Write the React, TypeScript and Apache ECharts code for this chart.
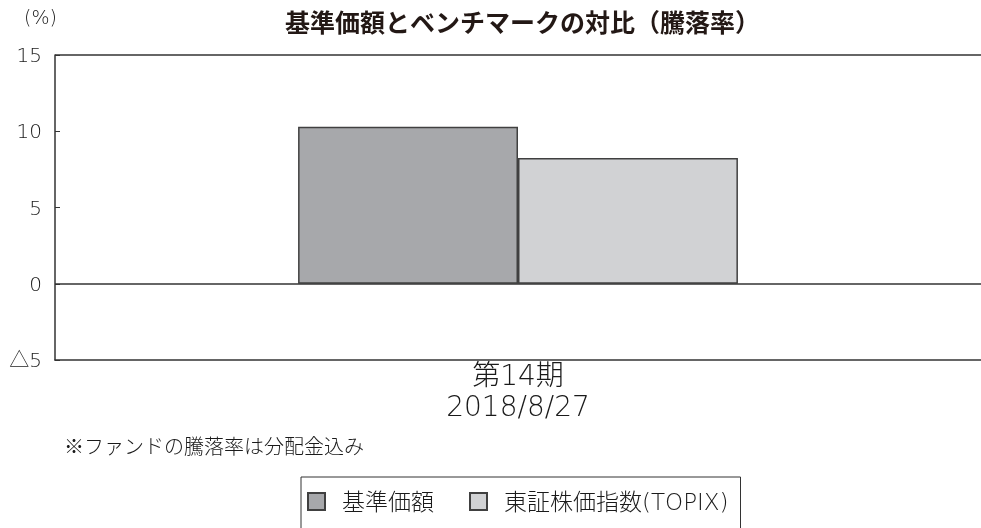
import React, { useEffect, useRef } from "react";
import * as echarts from "echarts";

const categories = ["第14期\n2018/8/27"];
const fundValues = [10.3];
const benchValues = [8.25];
const seriesNames = ["基準価額", "東証株価指数(TOPIX)"];
const refLines = [15, 0];
const yTicks = { min: -5, max: 15, interval: 5 };

const CJK = "'Noto Sans CJK JP', 'Noto Sans', sans-serif";
const NUM = "'DejaVu Sans', 'Noto Sans CJK JP', sans-serif";
const TXT = "#1a1a1a";

export default function App() {
  const ref = useRef<HTMLDivElement>(null);
  useEffect(() => {
    const chart = echarts.init(ref.current!, null, { renderer: "svg" });
    chart.setOption({
      animation: false,
      textStyle: { fontFamily: CJK },
      title: {
        text: "基準価額とベンチマークの対比（騰落率）",
        left: 280,
        top: 3,
        textStyle: { fontFamily: CJK, fontSize: 25, fontWeight: "bold", color: "#231815" },
      },
      graphic: [
        {
          type: "text",
          left: 24,
          top: 7,
          style: { text: "(%)", font: `200 19px ${NUM}`, fill: TXT },
        },
        {
          type: "text",
          left: 64,
          top: 435,
          style: { text: "※ファンドの騰落率は分配金込み", font: `300 20px ${CJK}`, fill: TXT },
        },
      ],
      legend: {
        top: 477,
        left: 301,
        icon: "rect",
        itemWidth: 17,
        itemHeight: 17,
        itemGap: 35,
        borderColor: "#333",
        borderWidth: 1,
        padding: [13, 12, 24, 6],
        textStyle: { fontFamily: NUM, fontWeight: 200, fontSize: 23, color: TXT, padding: [0, 0, 0, 12] },
        data: seriesNames,
      },
      grid: { left: 55, right: 0, top: 55, bottom: 168, containLabel: false },
      xAxis: {
        type: "category",
        data: categories,
        axisLine: { onZero: false, lineStyle: { color: "#333", width: 1.5 } },
        axisTick: { show: false },
        axisLabel: { fontSize: 28, fontWeight: 200, lineHeight: 31, color: TXT, margin: 0, fontFamily: NUM },
      },
      yAxis: {
        type: "value",
        min: yTicks.min,
        max: yTicks.max,
        interval: yTicks.interval,
        splitLine: { show: false },
        axisLine: { show: true, lineStyle: { color: "#333", width: 1.5 } },
        axisTick: { show: true, inside: true, length: 5, lineStyle: { color: "#333" } },
        axisLabel: {
          fontSize: 20,
          fontWeight: 200,
          color: TXT,
          margin: 13,
          fontFamily: NUM,
          formatter: (v: number) => (v < 0 ? "△" + Math.abs(v) : String(v)),
        },
      },
      series: [
        {
          name: seriesNames[0],
          type: "bar",
          data: fundValues,
          barGap: "0%",
          barCategoryGap: "52.5%",
          itemStyle: { color: "#a7a8ab", borderColor: "#404040", borderWidth: 1.5 },
          markLine: {
            silent: true,
            symbol: "none",
            label: { show: false },
            lineStyle: { color: "#333", width: 1.5, type: "solid" },
            data: refLines.map((y) => ({ yAxis: y })),
          },
        },
        {
          name: seriesNames[1],
          type: "bar",
          data: benchValues,
          itemStyle: { color: "#d1d2d4", borderColor: "#404040", borderWidth: 1.5 },
        },
      ],
    });
    return () => chart.dispose();
  }, []);
  return (
    <div
      ref={ref}
      style={{ position: "fixed", left: 0, top: 0, width: 981, height: 528, overflow: "hidden" }}
    />
  );
}
